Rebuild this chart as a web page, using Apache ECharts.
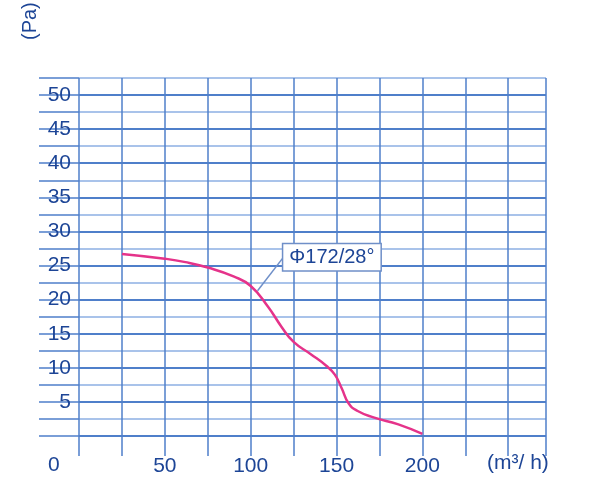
<!DOCTYPE html>
<html><head><meta charset="utf-8">
<script src="https://cdn.jsdelivr.net/npm/echarts@6/dist/echarts.min.js"></script>
<style>body{margin:0;background:#fff}#c{width:600px;height:500px}</style>
</head><body><div id="c"></div>
<script>
// curva de pressão x vazão
const curva = [
  [25, 26.7], [50, 26], [62, 25.5], [75, 24.7], [90, 23.4], [100, 22],
  [110, 19], [118, 16], [125, 13.8], [135, 12], [144, 10.3], [149, 9],
  [153, 7], [157, 4.8], [162, 3.7], [172, 2.7], [186, 1.7], [200, 0.3]
];
const azul = '#1d4596';

const option = {
  animation: false,
  grid: { left: 79, right: 54, top: 78, bottom: 64 },
  xAxis: {
    type: 'value', min: 0, max: 272, interval: 25,
    axisLine: { show: false },
    axisTick: { show: true, length: 20, lineStyle: { color: '#4f7fca', width: 1.5 } },
    splitLine: { lineStyle: { color: '#4f7fca', width: 1.5 } },
    axisLabel: {
      color: azul, fontSize: 21, fontFamily: 'Liberation Sans', margin: 20,
      formatter: v => (v % 50 === 0 && v > 0 && v <= 200) ? String(v) : ''
    }
  },
  yAxis: {
    type: 'value', min: 0, max: 52.5, interval: 2.5,
    axisLine: { show: false },
    axisTick: { show: true, length: 40, lineStyle: { color: '#4f7fca', width: 1.5 } },
    splitLine: { lineStyle: { color: ['#4f7fca', '#a9c3ea'], width: 2 } },
    axisLabel: {
      color: azul, fontSize: 21, fontFamily: 'Liberation Sans', margin: 8,
      formatter: v => (v % 5 === 0 && v > 0) ? String(v) : ''
    }
  },
  graphic: [
    { type: 'text', left: 48, top: 455, style: { text: '0', fill: azul, font: '21px Liberation Sans' } },
    { type: 'text', left: 487, top: 453, style: { text: '(m³/ h)', fill: azul, font: '21px Liberation Sans' } },
    { type: 'text', x: 20, y: 40, rotation: Math.PI / 2, style: { text: '(Pa)', fill: azul, font: '20px Liberation Sans' } }
  ],
  series: [{
    type: 'line', data: curva, smooth: 0.5, symbol: 'none',
    lineStyle: { color: '#e5338a', width: 2.5 },
    markLine: {
      symbol: 'none', silent: true,
      lineStyle: { color: '#6f8fc8', width: 1.5, type: 'solid' },
      label: {
        position: 'end', formatter: 'Φ172/28°', color: azul, fontSize: 20,
        fontFamily: 'Liberation Sans', backgroundColor: '#fff',
        borderColor: '#6f8fc8', borderWidth: 1.5, padding: [3, 6], distance: 0,
        align: 'left'
      },
      data: [[{ coord: [104, 21.3] }, { coord: [119, 26.2] }]]
    }
  }]
};
const chart = echarts.init(document.getElementById('c'));
chart.setOption(option);
</script></body></html>
